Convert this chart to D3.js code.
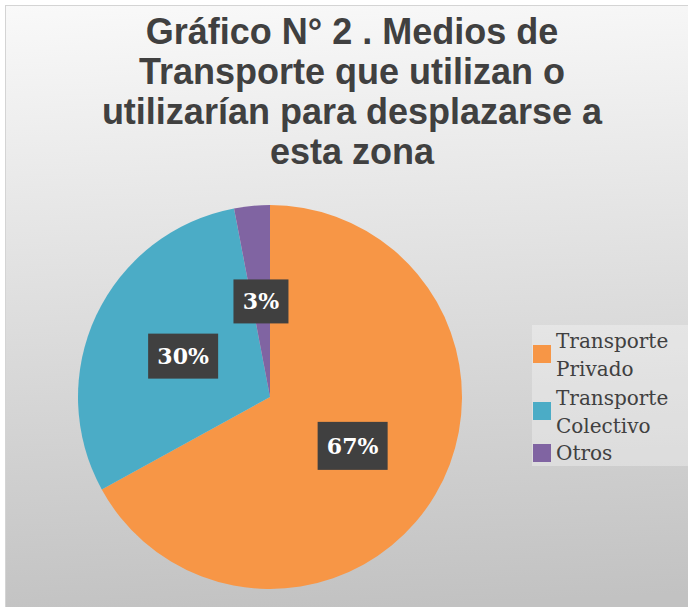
<!DOCTYPE html>
<html>
<head>
<meta charset="utf-8">
<script src="https://cdn.jsdelivr.net/npm/d3@7"></script>
<style>
  body { margin: 0; background: #fff; }
  svg { display: block; }
</style>
</head>
<body>
<svg width="688" height="607"></svg>
<script>
const categories = ["Transporte Privado", "Transporte Colectivo", "Otros"];
const legendLines = [["Transporte", "Privado"], ["Transporte", "Colectivo"], ["Otros"]];
const values = [67, 30, 3];
const colors = ["#F79646", "#4BACC6", "#8064A2"];
const titleLines = [
  "Gráfico N° 2 . Medios de",
  "Transporte que utilizan o",
  "utilizarían para desplazarse a",
  "esta zona",
];

const svg = d3.select("svg");
const width = 688, height = 607;

// background gradient like the excel chart area
const defs = svg.append("defs");
const grad = defs.append("linearGradient")
  .attr("id", "bg")
  .attr("x1", 0).attr("y1", 0)
  .attr("x2", 0.05).attr("y2", 1);
grad.append("stop").attr("offset", 0).attr("stop-color", "#f9f9f9");
grad.append("stop").attr("offset", 1).attr("stop-color", "#c2c2c2");

svg.append("rect")
  .attr("x", 5.5).attr("y", 5.5)
  .attr("width", width + 10).attr("height", height + 10)
  .attr("fill", "url(#bg)")
  .attr("stroke", "#d4d4d4");

// title
svg.append("text")
  .attr("x", 352)
  .attr("y", 44)
  .attr("text-anchor", "middle")
  .style("font-family", "'Liberation Sans', Arial, sans-serif")
  .style("font-weight", "bold")
  .style("font-size", "36px")
  .attr("fill", "#404040")
  .selectAll("tspan")
  .data(titleLines)
  .join("tspan")
  .attr("x", 352)
  .attr("dy", (d, i) => (i === 0 ? 0 : 40))
  .text((d) => d);

// pie
const cx = 270, cy = 397, r = 192;
const pie = d3.pie().sort(null).value((d) => d);
const arc = d3.arc().innerRadius(0).outerRadius(r);
const arcs = pie(values);

const g = svg.append("g").attr("transform", `translate(${cx},${cy})`);

g.selectAll("path")
  .data(arcs)
  .join("path")
  .attr("d", arc)
  .attr("fill", (d, i) => colors[i]);

// data labels in dark boxes
const labelSizes = [[70, 48], [70, 45], [55, 44]];
const labels = g.selectAll(".label")
  .data(arcs)
  .join("g")
  .attr("class", "label")
  .attr("transform", (d) => `translate(${arc.centroid(d)})`);

labels.append("rect")
  .attr("x", (d, i) => -labelSizes[i][0] / 2)
  .attr("y", (d, i) => -labelSizes[i][1] / 2)
  .attr("width", (d, i) => labelSizes[i][0])
  .attr("height", (d, i) => labelSizes[i][1])
  .attr("fill", "#404040");

labels.append("text")
  .attr("text-anchor", "middle")
  .attr("y", 8)
  .style("font-family", "'DejaVu Serif', serif")
  .style("font-weight", "bold")
  .style("font-size", "22px")
  .attr("fill", "#fff")
  .text((d) => d.data + "%");

// legend
const legend = svg.append("g");
legend.append("rect")
  .attr("x", 532).attr("y", 325)
  .attr("width", 170).attr("height", 141)
  .attr("fill", "#ffffff")
  .attr("opacity", 0.3);

const itemY = [354, 411, 453];
const item = legend.selectAll(".item")
  .data(categories)
  .join("g")
  .attr("class", "item")
  .attr("transform", (d, i) => `translate(533,${itemY[i]})`);

item.append("rect")
  .attr("x", 0).attr("y", -9)
  .attr("width", 18).attr("height", 18)
  .attr("fill", (d, i) => colors[i]);

item.append("text")
  .attr("x", 23)
  .attr("y", (d, i) => (legendLines[i].length > 1 ? -6 : 7))
  .style("font-family", "'DejaVu Serif', serif")
  .style("font-size", "20px")
  .attr("fill", "#404040")
  .selectAll("tspan")
  .data((d, i) => legendLines[i])
  .join("tspan")
  .attr("x", 23)
  .attr("dy", (d, j) => (j === 0 ? 0 : 28))
  .text((d) => d);
</script>
</body>
</html>
